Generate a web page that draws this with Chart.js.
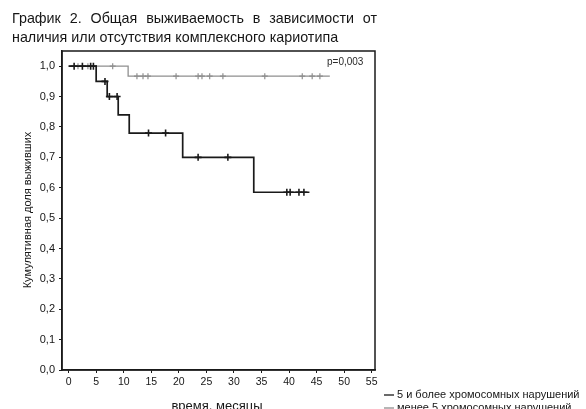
<!DOCTYPE html>
<html lang="ru">
<head>
<meta charset="utf-8">
<title>Общая выживаемость</title>
<script src="https://cdn.jsdelivr.net/npm/chart.js@4.4.1/dist/chart.umd.min.js"></script>
<style>
  html, body { margin: 0; padding: 0; background: #fff; }
  #wrap { width: 586px; height: 409px; position: relative; }
</style>
</head>
<body>
<div id="wrap"><canvas id="km" width="586" height="409"></canvas></div>
<script>
// Kaplan–Meier curves: time in months, cumulative proportion surviving
const titleLines = [
  'График 2. Общая выживаемость в зависимости от',
  'наличия или отсутствия комплексного кариотипа'
];
const xTitle = 'время, месяцы';
const yTitle = 'Кумулятивная доля выживших';
const pLabel = 'p=0,003';
const seriesNames = ['5 и более хромосомных нарушений', 'менее 5 хромосомных нарушений'];

const xTicks = [0, 5, 10, 15, 20, 25, 30, 35, 40, 45, 50, 55];
const yTicks = [0, 0.1, 0.2, 0.3, 0.4, 0.5, 0.6, 0.7, 0.8, 0.9, 1.0];

// 5 or more aberrations: step points (event time, survival after event)
const highTimes = [0, 5, 7, 9, 11, 20.7, 33.6, 43.7];
const highSurv  = [1.0, 0.95, 0.90, 0.84, 0.78, 0.70, 0.585, 0.585];
// censored observations
const highCensTimes = [1, 2.5, 4, 4.5, 6.6, 7.4, 8.8, 14.5, 17.6, 23.5, 28.9, 39.6, 40.2, 41.8, 42.7];
const highCensSurv  = [1.0, 1.0, 1.0, 1.0, 0.95, 0.90, 0.90, 0.78, 0.78, 0.70, 0.70, 0.585, 0.585, 0.585, 0.585];

// fewer than 5 aberrations
const lowTimes = [0, 10.8, 47.4];
const lowSurv  = [1.0, 0.967, 0.967];
const lowCensTimes = [1.7, 3.5, 8.0, 12.4, 13.5, 14.4, 19.5, 23.5, 24.2, 25.6, 28.0, 35.6, 42.4, 44.2, 45.6];
const lowCensSurv  = [1.0, 1.0, 1.0, 0.967, 0.967, 0.967, 0.967, 0.967, 0.967, 0.967, 0.967, 0.967, 0.967, 0.967, 0.967];

const toPoints = (xs, ys) => xs.map((x, i) => ({ x: x, y: ys[i] }));
const commaNum = v => v.toFixed(1).replace('.', ',');

const DARK = '#1a1a1a';
const GREY = '#8f8f8f';
const INK = '#161616';
const FONT = '"Liberation Sans", Arial, sans-serif';

// frame, headings, axis titles and legend
const decor = {
  id: 'decor',
  afterDraw(chart) {
    const ctx = chart.ctx;
    const a = chart.chartArea;
    ctx.save();
    // full box around the plot
    ctx.strokeStyle = DARK;
    ctx.lineWidth = 1.5;
    ctx.strokeRect(a.left, a.top, a.right - a.left, a.bottom - a.top);

    // heading, first line justified
    ctx.fillStyle = INK;
    ctx.font = '14.3px ' + FONT;
    ctx.textBaseline = 'middle';
    ctx.textAlign = 'left';
    const words = titleLines[0].split(' ');
    const lineStart = 12, lineEnd = 377;
    const wordsW = words.reduce((s, w) => s + ctx.measureText(w).width, 0);
    const gap = (lineEnd - lineStart - wordsW) / (words.length - 1);
    let cx = lineStart;
    words.forEach(w => { ctx.fillText(w, cx, 19); cx += ctx.measureText(w).width + gap; });
    ctx.fillText(titleLines[1], 12, 38);

    // p-value
    ctx.font = '10px ' + FONT;
    ctx.fillStyle = '#2a2a2a';
    ctx.fillText(pLabel, 327, 62);

    // axis titles
    ctx.fillStyle = INK;
    ctx.font = '13px ' + FONT;
    ctx.textAlign = 'center';
    ctx.fillText(xTitle, 217, 406);
    ctx.save();
    ctx.translate(28, 210);
    ctx.rotate(-Math.PI / 2);
    ctx.font = '11px ' + FONT;
    ctx.fillText(yTitle, 0, 0);
    ctx.restore();

    // legend
    ctx.textAlign = 'left';
    ctx.font = '11px ' + FONT;
    const rows = [[DARK, 395], [GREY, 408]];
    rows.forEach(([col, y], i) => {
      ctx.strokeStyle = col;
      ctx.lineWidth = 1.3;
      ctx.beginPath();
      ctx.moveTo(384, y);
      ctx.lineTo(394, y);
      ctx.stroke();
      ctx.fillStyle = INK;
      ctx.fillText(seriesNames[i], 397, y);
    });
    ctx.restore();
  }
};

new Chart(document.getElementById('km'), {
  type: 'line',
  data: {
    datasets: [
      {
        label: seriesNames[0],
        data: toPoints(highTimes, highSurv),
        stepped: 'before',
        borderColor: DARK,
        borderWidth: 1.7,
        pointRadius: 0,
        fill: false,
        order: 1
      },
      {
        label: seriesNames[1],
        data: toPoints(lowTimes, lowSurv),
        stepped: 'before',
        borderColor: GREY,
        borderWidth: 1.3,
        pointRadius: 0,
        fill: false,
        order: 2
      },
      {
        label: seriesNames[0] + ' (цензурированные)',
        data: toPoints(highCensTimes, highCensSurv),
        showLine: false,
        pointStyle: 'cross',
        pointRadius: 3.5,
        pointBorderWidth: 1.6,
        pointBorderColor: DARK,
        order: 0
      },
      {
        label: seriesNames[1] + ' (цензурированные)',
        data: toPoints(lowCensTimes, lowCensSurv),
        showLine: false,
        pointStyle: 'cross',
        pointRadius: 3,
        pointBorderWidth: 1.2,
        pointBorderColor: GREY,
        order: 1
      }
    ]
  },
  options: {
    responsive: false,
    animation: false,
    devicePixelRatio: 1,
    layout: { padding: { left: 0, top: 51, right: 211, bottom: 0 } },
    plugins: {
      legend: { display: false },
      title: { display: false },
      tooltip: { enabled: false }
    },
    scales: {
      x: {
        type: 'linear',
        min: -1.2,
        max: 55.6,
        afterBuildTicks: s => { s.ticks = xTicks.map(v => ({ value: v })); },
        afterFit: s => { s.height = 39; },
        border: { display: true, color: DARK, width: 1.5 },
        grid: { drawOnChartArea: false, drawTicks: true, tickLength: 3, color: DARK },
        ticks: {
          padding: 3,
          color: INK,
          font: { family: FONT, size: 10.5 },
          maxRotation: 0,
          callback: v => String(v)
        }
      },
      y: {
        type: 'linear',
        min: 0,
        max: 1.05,
        afterBuildTicks: s => { s.ticks = yTicks.map(v => ({ value: v })); },
        afterFit: s => { s.width = 62; },
        border: { display: true, color: DARK, width: 1.5 },
        grid: { drawOnChartArea: false, drawTicks: true, tickLength: 3, color: DARK },
        ticks: {
          padding: 4,
          color: INK,
          font: { family: FONT, size: 11 },
          callback: v => commaNum(v)
        }
      }
    }
  },
  plugins: [decor]
});
</script>
</body>
</html>
